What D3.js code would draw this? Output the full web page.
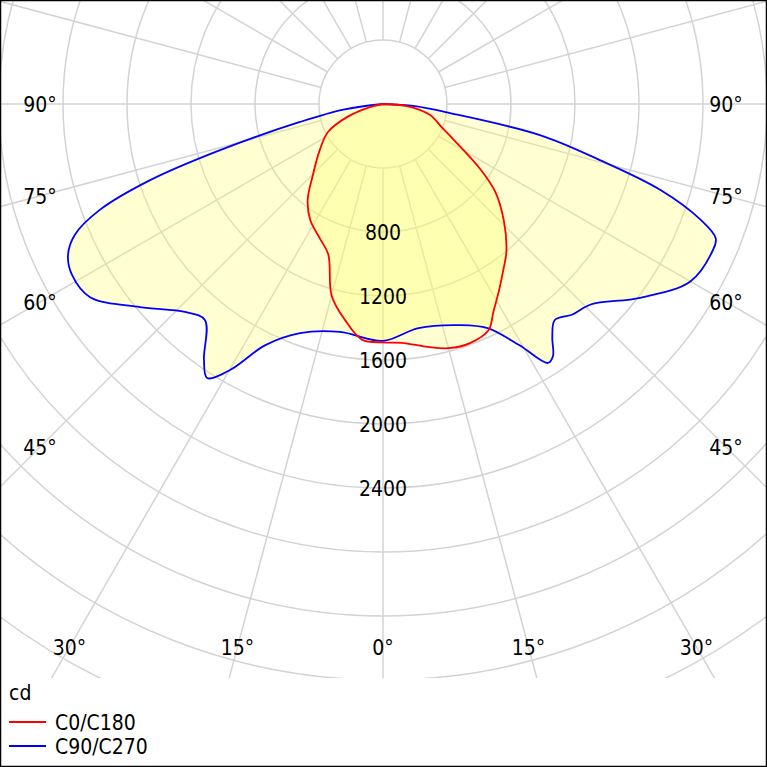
<!DOCTYPE html>
<html lang="en">
<head>
  <meta charset="UTF-8">
  <script src="https://d3js.org/d3.v7.min.js"></script>
  <style>
    body { margin: 0; background: #fff; }
    text { font-family: "DejaVu Sans Condensed", "DejaVu Sans", sans-serif; font-size: 21px; fill: #000; }
  </style>
</head>
<body>
  <div id="chart"></div>
  <script>
    // gamma angles (0 = straight down) and intensities in cd
    const c0Angles   = [0, 5, 10, 15, 20, 25, 28, 32, 36, 40, 46, 52, 56, 63, 68, 77, 85, 90];
    const c0Values   = [1490, 1500, 1540, 1580, 1590, 1560, 1470, 1370, 1280, 1200, 1050, 890, 740, 500, 400, 300, 150, 0];
    const c180Angles = [0, 5, 10, 15, 20, 25, 32, 38, 44, 54, 63, 70, 77, 90];
    const c180Values = [1490, 1480, 1370, 1240, 1000, 930, 857, 765, 636, 488, 386, 240, 84, 0];
    const c90Angles  = [0, 9, 19, 25, 29.5, 32.5, 34, 36, 38.5, 42, 46, 53, 60, 66, 68, 70, 72.8, 75.5, 78.8, 82.3, 86, 90];
    const c90Values  = [1480, 1418, 1462, 1546, 1733, 1919, 1900, 1800, 1725, 1770, 1804, 2013, 2218, 2255, 2243, 2110, 1813, 1400, 1000, 423, 200, 0];
    const c270Angles = [0, 10.7, 19.9, 26, 29.9, 32.7, 35, 39.5, 43.6, 50.1, 56.6, 61.2, 64.4, 67, 69.5, 71.9, 74.2, 77.8, 82, 90];
    const c270Values = [1480, 1450, 1523, 1677, 1918, 2035, 1951, 1750, 1795, 1979, 2193, 2218, 2183, 2092, 1890, 1531, 1058, 531, 250, 0];
    const ringValues = d3.range(400, 6001, 400);
    const ringLabels = [800, 1200, 1600, 2000, 2400];
    const angleLabels = [0, 15, 30, 45, 60, 75, 90];

    const W = 767, H = 767, cx = 383, cy = 104, gridBottom = 678;
    const r = d3.scaleLinear().domain([0, 400]).range([0, 64]);
    const toRad = d => d * Math.PI / 180;

    const svg = d3.select('#chart').append('svg').attr('width', W).attr('height', H);
    svg.append('clipPath').attr('id', 'clip')
      .append('rect').attr('x', 0).attr('y', 0).attr('width', W).attr('height', gridBottom);
    const grid = svg.append('g').attr('clip-path', 'url(#clip)');
    const plot = svg.append('g').attr('clip-path', 'url(#clip)');

    grid.selectAll('circle').data(ringValues).enter().append('circle')
      .attr('cx', cx).attr('cy', cy).attr('r', d => r(d))
      .attr('fill', 'none').attr('stroke', '#d3d3d3').attr('stroke-width', 1.5);
    grid.selectAll('line').data(d3.range(0, 360, 15)).enter().append('line')
      .attr('x1', d => cx + r(400) * Math.sin(toRad(d)))
      .attr('y1', d => cy + r(400) * Math.cos(toRad(d)))
      .attr('x2', d => cx + 1200 * Math.sin(toRad(d)))
      .attr('y2', d => cy + 1200 * Math.cos(toRad(d)))
      .attr('stroke', '#d3d3d3').attr('stroke-width', 1.5);

    // closed curve: right half from 90 down to 0, then left half 0 up to 90
    const curvePoints = (rightA, rightV, leftA, leftV) => {
      const pts = [];
      for (let i = rightA.length - 1; i >= 0; i--)
        pts.push([cx + r(rightV[i]) * Math.sin(toRad(rightA[i])), cy + r(rightV[i]) * Math.cos(toRad(rightA[i]))]);
      for (let i = 1; i < leftA.length; i++)
        pts.push([cx - r(leftV[i]) * Math.sin(toRad(leftA[i])), cy + r(leftV[i]) * Math.cos(toRad(leftA[i]))]);
      return pts;
    };
    const line = d3.line().curve(d3.curveCatmullRomClosed.alpha(0.5));
    const curves = [
      { name: 'C0/C180', color: '#ff0000', pts: curvePoints(c0Angles, c0Values, c180Angles, c180Values) },
      { name: 'C90/C270', color: '#0000ff', pts: curvePoints(c90Angles, c90Values, c270Angles, c270Values) }
    ];

    plot.selectAll('path.fill').data(curves).enter().append('path')
      .attr('d', d => line(d.pts)).attr('fill', '#ffff66').attr('fill-opacity', 0.3).attr('stroke', 'none');
    plot.selectAll('path.edge').data(curves.slice().reverse()).enter().append('path')
      .attr('d', d => line(d.pts)).attr('fill', 'none')
      .attr('stroke', d => d.color).attr('stroke-width', 1.8);

    svg.selectAll('text.ring').data(ringLabels).enter().append('text')
      .attr('x', cx).attr('y', d => cy + r(d) + 8)
      .attr('text-anchor', 'middle').text(d => d);

    // angle labels along the left/right edges and the bottom row
    const labelPos = a => {
      if (a >= 45) return [cx - 343, cy + 343 / Math.tan(toRad(a))];
      return [cx - 543 * Math.tan(toRad(a)), 647];
    };
    angleLabels.forEach(a => {
      const [x, y] = labelPos(a);
      const xs = a === 0 ? [x] : [x, 2 * cx - x];
      xs.forEach(xx => {
        svg.append('text').attr('x', xx).attr('y', y + 8)
          .attr('text-anchor', 'middle').text(a + '°');
      });
    });

    svg.append('text').attr('x', 9).attr('y', 700).text('cd');
    const legend = svg.selectAll('g.legend').data(curves).enter().append('g')
      .attr('transform', (d, i) => `translate(9, ${722 + i * 24})`);
    legend.append('line').attr('x1', 0).attr('x2', 37).attr('y1', 0).attr('y2', 0)
      .attr('stroke', d => d.color).attr('stroke-width', 1.8);
    legend.append('text').attr('x', 46).attr('y', 8).text(d => d.name);

    svg.append('rect').attr('x', 0.5).attr('y', 0.5).attr('width', W - 1).attr('height', H - 1)
      .attr('fill', 'none').attr('stroke', '#000').attr('stroke-width', 1.5);
  </script>
</body>
</html>
